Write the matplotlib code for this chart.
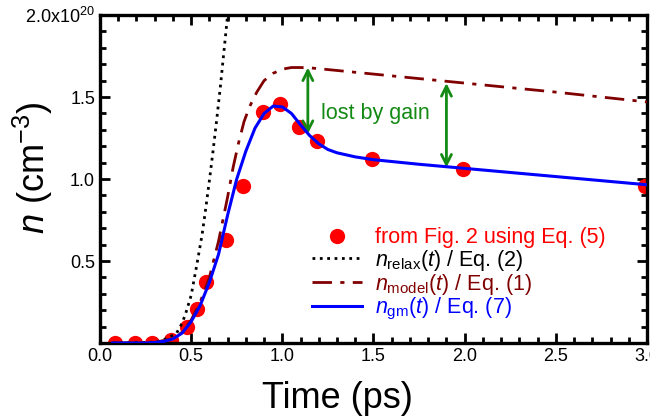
import numpy as np
import matplotlib
matplotlib.use("Agg")
import matplotlib.pyplot as plt
from matplotlib.ticker import MultipleLocator

plt.rcParams['font.family'] = ['Liberation Sans', 'DejaVu Sans']
plt.rcParams['mathtext.fontset'] = 'custom'
plt.rcParams['mathtext.rm'] = 'Liberation Sans'
plt.rcParams['mathtext.it'] = 'Liberation Sans:italic'
plt.rcParams['mathtext.default'] = 'regular'

# data points (from Fig. 2 using Eq. (5)), n in 1e20 cm^-3
t_pts = [0.08, 0.19, 0.285, 0.39, 0.48, 0.53, 0.58, 0.69, 0.785, 0.895, 0.99, 1.09, 1.19, 1.49, 1.99, 2.99]
n_pts = [0.0, 0.0, 0.0, 0.02, 0.10, 0.21, 0.37, 0.63, 0.96, 1.41, 1.46, 1.32, 1.23, 1.12, 1.06, 0.96]

# n_relax(t) / Eq. (2)
t_relax = [0.07, 0.30, 0.34, 0.38, 0.42, 0.45, 0.47, 0.50, 0.53, 0.56, 0.58, 0.60, 0.62, 0.64, 0.66, 0.68, 0.70, 0.71]
n_relax = [0.0, 0.005, 0.015, 0.035, 0.06, 0.12, 0.18, 0.29, 0.47, 0.66, 0.82, 0.99, 1.17, 1.36, 1.56, 1.78, 2.0, 2.12]

# n_model(t) / Eq. (1)
t_model = [0.07, 0.30, 0.40, 0.45, 0.50, 0.55, 0.60, 0.65, 0.70, 0.73, 0.76, 0.79, 0.82, 0.86, 0.90, 0.95,
           1.00, 1.05, 1.10, 1.15, 1.20, 1.50, 2.00, 2.50, 3.00]
n_model = [0.0, 0.004, 0.027, 0.065, 0.14, 0.25, 0.40, 0.62, 0.89, 1.07, 1.22, 1.35, 1.44, 1.53, 1.60, 1.645,
           1.67, 1.68, 1.68, 1.678, 1.673, 1.64, 1.585, 1.53, 1.47]

# n_gm(t) / Eq. (7)
t_gm = [0.07, 0.25, 0.30, 0.35, 0.40, 0.45, 0.50, 0.55, 0.60, 0.65, 0.70, 0.75, 0.80, 0.85, 0.90, 0.95,
        1.00, 1.05, 1.10, 1.15, 1.20, 1.25, 1.30, 1.40, 1.50, 1.75, 2.00, 2.50, 3.00]
n_gm = [0.0, 0.0, 0.003, 0.01, 0.025, 0.06, 0.13, 0.23, 0.37, 0.54, 0.78, 1.0, 1.17, 1.31, 1.40, 1.445,
        1.44, 1.40, 1.33, 1.265, 1.215, 1.18, 1.16, 1.135, 1.118, 1.09, 1.065, 1.015, 0.965]

fig = plt.figure(figsize=(6.5, 4.18), dpi=100)
ax = fig.add_axes([0.1538, 0.1794, 0.8416, 0.7846])

ax.plot(t_pts, n_pts, 'o', color='#ff0000', ms=11, mec='none', label='from Fig. 2 using Eq. (5)', zorder=2)
ax.plot(t_relax, n_relax, ':', color='black', lw=2, label=r'$\mathit{n}_{relax}(\mathit{t})$ / Eq. (2)', zorder=3)
ax.plot(t_model, n_model, color='#800000', lw=2, dashes=(7, 3, 1.5, 3),
        label=r'$\mathit{n}_{model}(\mathit{t})$ / Eq. (1)', zorder=3)
ax.plot(t_gm, n_gm, '-', color='#0000ff', lw=2.2, label=r'$\mathit{n}_{gm}(\mathit{t})$ / Eq. (7)', zorder=4)

# arrows "lost by gain"
green = '#138a13'
for xa, y0, y1 in [(1.14, 1.275, 1.68), (1.90, 1.07, 1.585)]:
    ax.annotate('', xy=(xa, y1), xytext=(xa, y0),
                arrowprops=dict(arrowstyle='<->', color=green, lw=2, mutation_scale=18, shrinkA=0, shrinkB=0))
ax.text(1.51, 1.40, 'lost by gain', color=green, fontsize=15.5, ha='center', va='center')

ax.set_xlim(0, 3.0)
ax.set_ylim(0, 2.0)
ax.xaxis.set_major_locator(MultipleLocator(0.5))
ax.xaxis.set_minor_locator(MultipleLocator(0.1))
ax.set_yticks([0.5, 1.0, 1.5, 2.0])
ax.set_yticklabels(['0.5', '1.0', '1.5', r'2.0x10$^{20}$'])
ax.yaxis.set_minor_locator(MultipleLocator(0.1))
ax.set_xticklabels(['%.1f' % v for v in ax.get_xticks()])

ax.tick_params(which='both', direction='in', top=True, right=True, width=2, labelsize=13)
ax.tick_params(which='major', length=7)
ax.tick_params(which='minor', length=4)
for s in ax.spines.values():
    s.set_linewidth(2.4)

ax.set_xlabel('Time (ps)', fontsize=26)
ax.xaxis.set_label_coords(0.435, -0.115)
ax.set_ylabel(r'$\mathit{n}$ (cm$^{-3}$)', fontsize=26)
ax.yaxis.set_label_coords(-0.082, 0.535)

leg = ax.legend(loc='lower left', bbox_to_anchor=(0.372, 0.038), frameon=False, fontsize=15.5,
                handlelength=2.3, handletextpad=0.6, labelspacing=-0.04, numpoints=1, borderaxespad=0,
                labelcolor=['#ff0000', 'black', '#800000', '#0000ff'])

fig.savefig('out.png', dpi=100)
